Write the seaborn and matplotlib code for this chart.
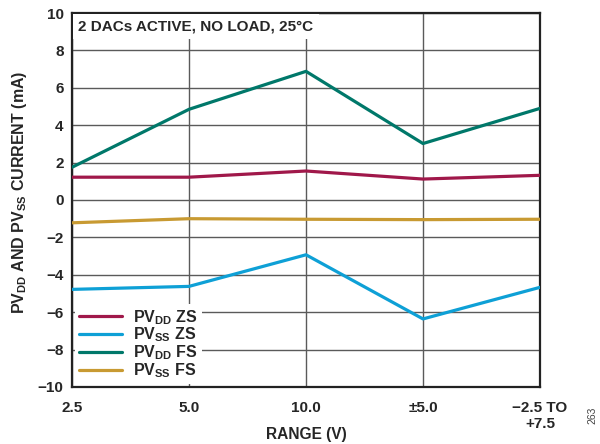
import matplotlib
matplotlib.use("Agg")
import matplotlib.pyplot as plt
import seaborn as sns
import pandas as pd

ranges = ["2.5", "5.0", "10.0", "±5.0", "−2.5 TO\n+7.5"]
pvdd_zs = [1.22, 1.22, 1.55, 1.12, 1.32]
pvss_zs = [-4.78, -4.62, -2.93, -6.36, -4.67]
pvdd_fs = [1.75, 4.85, 6.88, 3.02, 4.90]
pvss_fs = [-1.22, -1.0, -1.03, -1.05, -1.03]
series_names = ["PV$_{\\mathrm{DD}}$ ZS", "PV$_{\\mathrm{SS}}$ ZS",
                "PV$_{\\mathrm{DD}}$ FS", "PV$_{\\mathrm{SS}}$ FS"]
colors = ["#A0184A", "#0EA0D6", "#00786A", "#C89A32"]

sns.set_style("white")
plt.rcParams["font.family"] = ["Liberation Sans", "DejaVu Sans"]
plt.rcParams["font.weight"] = "bold"
plt.rcParams["mathtext.fontset"] = "custom"
plt.rcParams["mathtext.rm"] = "Liberation Sans:bold"
plt.rcParams["mathtext.it"] = "Liberation Sans:bold"
plt.rcParams["mathtext.bf"] = "Liberation Sans:bold"

rows = []
for name, vals in zip(series_names, [pvdd_zs, pvss_zs, pvdd_fs, pvss_fs]):
    for i, v in enumerate(vals):
        rows.append({"pos": i, "value": v, "series": name})
df = pd.DataFrame(rows)

fig = plt.figure(figsize=(6.0, 4.44), dpi=100)
ax = fig.add_axes([0.12, 0.1284, 0.78, 0.8423])

sns.lineplot(data=df, x="pos", y="value", hue="series", hue_order=series_names,
             palette=colors, linewidth=2.3, ax=ax, sort=False, zorder=4)

ax.set_xlim(0, len(ranges) - 1)
ax.set_ylim(-10, 10)
ax.set_xticks(range(len(ranges)))
ax.set_xticklabels(ranges, fontsize=11, fontweight="bold", linespacing=1.15)
ax.set_yticks(range(-10, 11, 2))
ax.set_yticklabels([str(v).replace("-", "−") for v in range(-10, 11, 2)],
                   fontsize=11, fontweight="bold")
ax.tick_params(axis="x", length=0, pad=10)
ax.tick_params(axis="y", length=0, pad=6)
ax.grid(True, color="#5a5a5a", linewidth=1.0)
ax.set_axisbelow(True)
for s in ax.spines.values():
    s.set_visible(True)
    s.set_color("#222222")
    s.set_linewidth(1.6)

ax.set_xlabel("RANGE (V)", fontsize=11.2, fontweight="bold")
ax.xaxis.set_label_coords(0.5, -0.126)
ax.xaxis.label.set_va("center")
ax.set_ylabel("PV$_{\\mathrm{DD}}$ AND PV$_{\\mathrm{SS}}$ CURRENT (mA)",
              fontsize=11.5, fontweight="bold")
ax.yaxis.set_label_coords(-0.112, 0.52)
ax.yaxis.label.set_va("center")

ax.text(0.013, 0.983, "2 DACs ACTIVE, NO LOAD, 25°C", transform=ax.transAxes,
        ha="left", va="top", fontsize=11, fontweight="bold", zorder=5,
        bbox=dict(facecolor="white", edgecolor="none", pad=4))

leg = ax.legend(loc="lower left", bbox_to_anchor=(0.0, 0.0), frameon=True,
                fontsize=11.5, handlelength=2.7, handletextpad=0.7,
                labelspacing=-0.06, borderpad=0.25, borderaxespad=0.2)
leg.get_frame().set_facecolor("white")
leg.get_frame().set_edgecolor("none")
leg.get_frame().set_alpha(1.0)
leg.set_zorder(6)
for t in leg.get_texts():
    t.set_fontweight("bold")
for l in leg.get_lines():
    l.set_linewidth(2.3)

fig.text(0.987, 0.045, "263", rotation=90, fontsize=7.5, color="#444444",
         fontweight="normal", ha="center", va="bottom")

fig.savefig("out.png", dpi=100)
